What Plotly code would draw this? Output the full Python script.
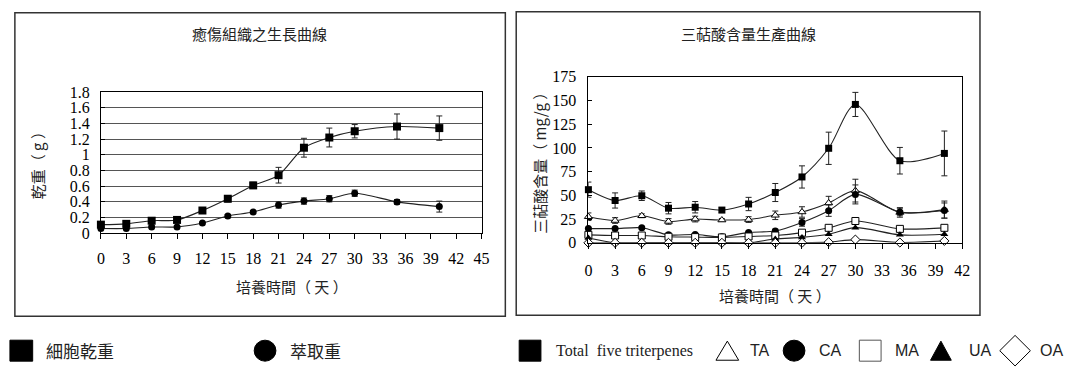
import plotly.graph_objects as go

W, H = 1074, 374

# ---- growth curve of callus (left panel) ----
days_growth = [0, 3, 6, 9, 12, 15, 18, 21, 24, 27, 30, 35, 40]
cell_dry_weight = [0.11, 0.12, 0.16, 0.17, 0.29, 0.44, 0.61, 0.74, 1.09, 1.22, 1.30, 1.36, 1.34]
cell_dry_err = [0.02, 0.02, 0.02, 0.02, 0.02, 0.04, 0.04, 0.10, 0.12, 0.12, 0.085, 0.16, 0.155]
extract_weight = [0.06, 0.06, 0.08, 0.08, 0.13, 0.22, 0.27, 0.36, 0.41, 0.44, 0.51, 0.40, 0.34]
extract_err = [0.01, 0.01, 0.01, 0.01, 0.01, 0.02, 0.02, 0.04, 0.04, 0.04, 0.04, 0.03, 0.07]
growth_xticks = [0, 3, 6, 9, 12, 15, 18, 21, 24, 27, 30, 33, 36, 39, 42, 45]
growth_yticks = [0, 0.2, 0.4, 0.6, 0.8, 1.0, 1.2, 1.4, 1.6, 1.8]
growth_yticktext = ["0", "0.2", "0.4", "0.6", "0.8", "1", "1.2", "1.4", "1.6", "1.8"]

# ---- triterpenoid acid production (right panel), mg/g ----
days_acid = [0, 3, 6, 9, 12, 15, 18, 21, 24, 27, 30, 35, 40]
total_five = [56, 44.6, 49.6, 36.5, 37.5, 34.5, 40.9, 53, 69.4, 99.6, 145.8, 86.5, 94.2]
total_err = [8, 8, 5, 6, 6, 2.5, 7, 9.5, 11.7, 17, 12.7, 14, 23.6]
ta = [27.5, 23.5, 28.5, 22.5, 25, 24, 24.5, 29, 32.5, 42, 55, 32, 35]
ta_err = [4, 3, 2, 3, 3, 1.5, 3, 4.5, 5.5, 7, 12, 5, 9]
ca = [15, 15, 15.8, 8.4, 8.7, 6.4, 11, 12.4, 21.5, 33.9, 51, 32.5, 34]
ca_err = [1, 1, 1, 1, 1, 1, 1, 2, 4, 6, 10, 4, 8]
ma = [8.4, 7.7, 7.7, 6.4, 6, 5.7, 6.7, 7.7, 10.7, 15.8, 23, 14.7, 15.8]
ua = [5, 0, 0, 0, 0, 0, 0, 4, 5.7, 9, 16, 8.4, 9]
oa = [0, 0, 0, 0, 0, 0, 0, 0, 0, 0.7, 3.4, 0.3, 2]
acid_xticks = [0, 3, 6, 9, 12, 15, 18, 21, 24, 27, 30, 33, 36, 39, 42]
acid_yticks = [0, 25, 50, 75, 100, 125, 150, 175]

SERIF = "Liberation Serif, Times New Roman, serif"
CJK = "Noto Sans CJK TC, Noto Sans CJK SC, sans-serif"
SANS = "Liberation Sans Narrow, Liberation Sans, Arial, sans-serif"


def fx(x):
    return x / W


def fy(y):
    return 1 - y / H


fig = go.Figure()

line_style = dict(color="#222", width=1.1, shape="spline", smoothing=0.8)
err_style = dict(type="data", color="#222", thickness=1, width=3)

# left panel traces
fig.add_trace(go.Scatter(
    x=days_growth, y=cell_dry_weight, mode="lines+markers", name="細胞乾重",
    line=line_style, marker=dict(symbol="square", size=8, color="black"),
    error_y=dict(array=cell_dry_err, **err_style), cliponaxis=False,
    xaxis="x", yaxis="y", showlegend=False))
fig.add_trace(go.Scatter(
    x=days_growth, y=extract_weight, mode="lines+markers", name="萃取重",
    line=line_style, marker=dict(symbol="circle", size=7, color="black"),
    error_y=dict(array=extract_err, **err_style), cliponaxis=False,
    xaxis="x", yaxis="y", showlegend=False))

# right panel traces
acid_series = [
    ("Total five triterpenes", total_five, total_err, dict(symbol="square", size=7, color="black")),
    ("TA", ta, ta_err, dict(symbol="triangle-up", size=7, color="white", line=dict(color="black", width=1))),
    ("CA", ca, ca_err, dict(symbol="circle", size=7, color="black")),
    ("MA", ma, None, dict(symbol="square", size=7, color="white", line=dict(color="black", width=1))),
    ("UA", ua, None, dict(symbol="triangle-up", size=7, color="black")),
    ("OA", oa, None, dict(symbol="diamond", size=7, color="white", line=dict(color="black", width=1))),
]
for name, vals, err, mk in acid_series:
    kw = {}
    if err is not None:
        kw["error_y"] = dict(array=err, **err_style)
    fig.add_trace(go.Scatter(
        x=days_acid, y=vals, mode="lines+markers", name=name,
        line=line_style, marker=mk, cliponaxis=False,
        xaxis="x2", yaxis="y2", showlegend=False, **kw))

tickfont = dict(family=SERIF, size=16, color="black")
axis_common = dict(showline=True, linecolor="black", linewidth=1, mirror=True,
                   zeroline=False, tickfont=tickfont, ticks="outside",
                   ticklen=5, tickcolor="black", fixedrange=True)

fig.update_layout(
    width=W, height=H, margin=dict(l=0, r=0, t=0, b=0),
    paper_bgcolor="white", plot_bgcolor="white", showlegend=False,
    xaxis=dict(domain=[fx(98), fx(483)], range=[0, 45], tickvals=growth_xticks,
               showgrid=False, anchor="y", ticklabelstandoff=6, **axis_common),
    yaxis=dict(domain=[fy(236), fy(88)], range=[0, 1.8], tickvals=growth_yticks,
               ticktext=growth_yticktext, showgrid=True, gridcolor="#555", gridwidth=1,
               anchor="x", ticklabelstandoff=7,
               **{**axis_common, "ticks": "inside", "ticklen": 4}),
    xaxis2=dict(domain=[fx(591), fx(969)], range=[0, 42], tickvals=acid_xticks,
                showgrid=False, anchor="y2", ticklabelstandoff=8, **axis_common),
    yaxis2=dict(domain=[fy(246), fy(72)], range=[0, 175], tickvals=acid_yticks,
                showgrid=False, anchor="x2", ticklabelstandoff=8,
                **{**axis_common, "ticks": "inside", "ticklen": 4}),
)

shapes = []
# panel frames
shapes.append(dict(type="rect", xref="paper", yref="paper",
                   x0=fx(11), x1=fx(507), y0=fy(323), y1=fy(5),
                   line=dict(color="#333", width=1.5)))
shapes.append(dict(type="rect", xref="paper", yref="paper",
                   x0=fx(518), x1=fx(987), y0=fy(322), y1=fy(4),
                   line=dict(color="#333", width=1.5)))

annotations = []


def label(text, x, y, font, xanchor="center", angle=0):
    annotations.append(dict(text=text, x=fx(x), y=fy(y), xref="paper", yref="paper",
                            showarrow=False, xanchor=xanchor, yanchor="middle",
                            textangle=angle, font=font))


cjk15 = dict(family=CJK, size=15, color="#222")
label("癒傷組織之生長曲線", 258, 27, cjk15)
label("三萜酸含量生產曲線", 753, 27, cjk15)
label("培養時間（ 天 ）", 291, 292, cjk15)
label("培養時間（ 天 ）", 780, 301, cjk15)
label("乾重（ g ）", 34, 161, cjk15, angle=-90)
label("三萜酸含量（ mg/g ）", 542, 158, cjk15, angle=-90)

# legend keys
cy = 359


def sq(x0, x1, fill, edge="black"):
    shapes.append(dict(type="rect", xref="paper", yref="paper",
                       x0=fx(x0), x1=fx(x1), y0=fy(cy + 11), y1=fy(cy - 11),
                       fillcolor=fill, line=dict(color=edge, width=1)))


def circ(cx, r=11):
    shapes.append(dict(type="circle", xref="paper", yref="paper",
                       x0=fx(cx - r), x1=fx(cx + r), y0=fy(cy + r), y1=fy(cy - r),
                       fillcolor="black", line=dict(color="black", width=1)))


def poly(points, fill):
    path = "M " + " L ".join(f"{fx(px):.5f},{fy(py):.5f}" for px, py in points) + " Z"
    shapes.append(dict(type="path", xref="paper", yref="paper", path=path,
                       fillcolor=fill, line=dict(color="black", width=1)))


sq(6, 29, "black")
label("細胞乾重", 40, cy, dict(family=CJK, size=17, color="#222"), xanchor="left")
circ(264)
label("萃取重", 287, cy, dict(family=CJK, size=17, color="#222"), xanchor="left")

sq(521, 543, "black")
label("Total  five triterpenes", 556, cy, dict(family=SERIF, size=16, color="#222"), xanchor="left")
poly([(720, cy + 10), (743, cy + 10), (731.5, cy - 10)], "white")
label("TA", 752, cy, dict(family=SANS, size=16, color="#222"), xanchor="left")
circ(799)
label("CA", 822, cy, dict(family=SANS, size=16, color="#222"), xanchor="left")
sq(865, 887, "white", edge="#555")
label("MA", 899, cy, dict(family=SANS, size=16, color="#222"), xanchor="left")
poly([(937, cy + 10), (958, cy + 10), (947.5, cy - 10)], "black")
label("UA", 974, cy, dict(family=SANS, size=16, color="#222"), xanchor="left")
poly([(1007, cy), (1022.5, cy - 16), (1038, cy), (1022.5, cy + 16)], "white")
label("OA", 1046, cy, dict(family=SANS, size=16, color="#222"), xanchor="left")

fig.update_layout(shapes=shapes, annotations=annotations)

fig.write_html("out.html")
